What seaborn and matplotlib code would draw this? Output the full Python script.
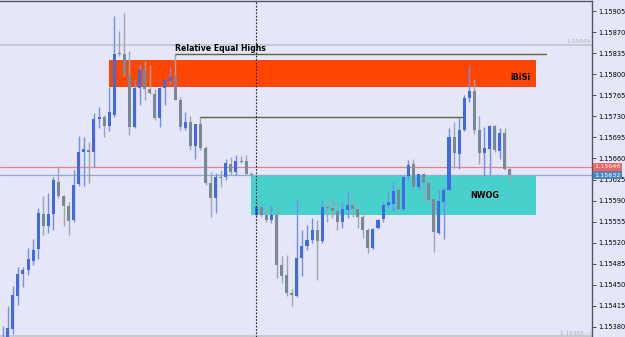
import numpy as np
import matplotlib
matplotlib.use("Agg")
import matplotlib.pyplot as plt
import matplotlib.transforms as mtransforms
import seaborn as sns

# ---- data (EURUSD-like candles) ----
opens = [1.15345, 1.15355, 1.15376, 1.15432, 1.15467, 1.15474, 1.15490, 1.15509, 1.15567, 1.15548,
         1.15568, 1.15621, 1.15598, 1.15581, 1.15557, 1.15617, 1.15671, 1.15674, 1.15671, 1.15725,
         1.15729, 1.15714, 1.15732, 1.15835, 1.15834, 1.15799, 1.15712, 1.15778, 1.15808, 1.15776,
         1.15768, 1.15728, 1.15778, 1.15789, 1.15798, 1.15758, 1.15711, 1.15721, 1.15680, 1.15717,
         1.15677, 1.15620, 1.15595, 1.15630, 1.15630, 1.15651, 1.15638, 1.15656, 1.15655, 1.15635,
         1.15566, 1.15579, 1.15566, 1.15557, 1.15566, 1.15483, 1.15466, 1.15437, 1.15432, 1.15494,
         1.15514, 1.15525, 1.15541, 1.15523, 1.15579, 1.15577, 1.15573, 1.15555, 1.15574, 1.15583,
         1.15576, 1.15563, 1.15541, 1.15511, 1.15544, 1.15559, 1.15583, 1.15585, 1.15608, 1.15576,
         1.15631, 1.15651, 1.15612, 1.15634, 1.15619, 1.15592, 1.15536, 1.15588, 1.15608, 1.15695,
         1.15667, 1.15707, 1.15761, 1.15773, 1.15708, 1.15669, 1.15676, 1.15714, 1.15673, 1.15703,
         1.15642]
highs = [1.15381, 1.15415, 1.15448, 1.15480, 1.15480, 1.15511, 1.15526, 1.15577, 1.15597, 1.15602,
         1.15629, 1.15648, 1.15599, 1.15588, 1.15641, 1.15697, 1.15695, 1.15688, 1.15735, 1.15745,
         1.15732, 1.15779, 1.15897, 1.15872, 1.15902, 1.15838, 1.15790, 1.15818, 1.15822, 1.15815,
         1.15776, 1.15779, 1.15792, 1.15812, 1.15833, 1.15763, 1.15738, 1.15730, 1.15718, 1.15729,
         1.15680, 1.15638, 1.15636, 1.15641, 1.15659, 1.15663, 1.15666, 1.15664, 1.15666, 1.15638,
         1.15583, 1.15581, 1.15577, 1.15583, 1.15579, 1.15497, 1.15500, 1.15443, 1.15593, 1.15541,
         1.15550, 1.15561, 1.15558, 1.15593, 1.15590, 1.15598, 1.15590, 1.15590, 1.15604, 1.15593,
         1.15581, 1.15566, 1.15544, 1.15544, 1.15560, 1.15588, 1.15605, 1.15621, 1.15613, 1.15631,
         1.15657, 1.15659, 1.15635, 1.15636, 1.15621, 1.15593, 1.15610, 1.15612, 1.15710, 1.15721,
         1.15727, 1.15765, 1.15814, 1.15793, 1.15731, 1.15713, 1.15716, 1.15716, 1.15710, 1.15710,
         1.15644]
lows = [1.15340, 1.15350, 1.15368, 1.15417, 1.15446, 1.15466, 1.15483, 1.15492, 1.15533, 1.15536,
        1.15541, 1.15595, 1.15547, 1.15533, 1.15555, 1.15614, 1.15614, 1.15619, 1.15646, 1.15710,
        1.15696, 1.15706, 1.15729, 1.15831, 1.15797, 1.15699, 1.15710, 1.15749, 1.15757, 1.15768,
        1.15724, 1.15713, 1.15749, 1.15782, 1.15757, 1.15707, 1.15707, 1.15674, 1.15659, 1.15674,
        1.15616, 1.15562, 1.15569, 1.15613, 1.15624, 1.15633, 1.15633, 1.15652, 1.15632, 1.15630,
        1.15563, 1.15562, 1.15555, 1.15553, 1.15461, 1.15453, 1.15432, 1.15415, 1.15429, 1.15465,
        1.15508, 1.15519, 1.15457, 1.15520, 1.15555, 1.15561, 1.15541, 1.15544, 1.15561, 1.15563,
        1.15544, 1.15527, 1.15502, 1.15509, 1.15542, 1.15555, 1.15580, 1.15573, 1.15573, 1.15572,
        1.15624, 1.15610, 1.15608, 1.15588, 1.15588, 1.15504, 1.15535, 1.15526, 1.15607, 1.15644,
        1.15642, 1.15706, 1.15754, 1.15701, 1.15651, 1.15631, 1.15633, 1.15670, 1.15659, 1.15641,
        1.15620]
closes = [1.15355, 1.15378, 1.15433, 1.15468, 1.15475, 1.15492, 1.15508, 1.15569, 1.15547, 1.15567,
          1.15624, 1.15598, 1.15581, 1.15556, 1.15616, 1.15671, 1.15676, 1.15671, 1.15726, 1.15729,
          1.15714, 1.15737, 1.15834, 1.15833, 1.15799, 1.15713, 1.15778, 1.15808, 1.15775, 1.15769,
          1.15727, 1.15778, 1.15790, 1.15796, 1.15758, 1.15713, 1.15721, 1.15681, 1.15717, 1.15677,
          1.15620, 1.15594, 1.15630, 1.15627, 1.15652, 1.15638, 1.15656, 1.15654, 1.15634, 1.15632,
          1.15579, 1.15566, 1.15558, 1.15566, 1.15483, 1.15465, 1.15437, 1.15433, 1.15495, 1.15515,
          1.15525, 1.15541, 1.15522, 1.15579, 1.15577, 1.15573, 1.15554, 1.15576, 1.15582, 1.15576,
          1.15563, 1.15541, 1.15511, 1.15542, 1.15558, 1.15582, 1.15587, 1.15606, 1.15576, 1.15630,
          1.15649, 1.15612, 1.15634, 1.15619, 1.15591, 1.15537, 1.15590, 1.15608, 1.15695, 1.15669,
          1.15707, 1.15760, 1.15773, 1.15708, 1.15669, 1.15677, 1.15714, 1.15674, 1.15702, 1.15642,
          1.15632]

ytick_values = [1.15380, 1.15415, 1.15450, 1.15485, 1.15520, 1.15555, 1.15590, 1.15625,
                1.15660, 1.15695, 1.15730, 1.15765, 1.15800, 1.15835, 1.15870, 1.15905]

ibisi_zone = [1.157793, 1.158236]
nwog_zone = [1.155662, 1.156314]
equal_highs_level = 1.15833
second_high_level = 1.15729
ask_price = 1.15646
bid_price = 1.15632
upper_ref_level = 1.15849
lower_ref_level = 1.15365

# ---- style ----
BG = "#E6E6FA"
sns.set_style("white", {"axes.facecolor": BG, "figure.facecolor": BG})
plt.rcParams['font.family'] = ['DejaVu Sans']

fig = plt.figure(figsize=(6.25, 3.37), dpi=100)
ax = fig.add_axes([0, 0, 592 / 625, 336 / 337])
ax.set_facecolor(BG)

o = np.array(opens); h = np.array(highs); l = np.array(lows); c = np.array(closes)
x = np.arange(len(o))
bull = c >= o
body_col = np.where(bull, "#4169E1", "#788896")
wick_col = np.where(bull, "#6F8EEE", "#9AA6B2")

# zones
ax.fill_between([21.0, 105.1], ibisi_zone[0], ibisi_zone[1], color="#FF4500", lw=0, zorder=1)
ax.fill_between([49.0, 105.1], nwog_zone[0], nwog_zone[1], color="#48D1CC", lw=0, zorder=1)

# horizontal lines
ax.axhline(upper_ref_level, color="#C4C4C8", lw=1.2, zorder=0.5)
ax.axhline(lower_ref_level, color="#C4C4C8", lw=1.2, zorder=0.5)
ax.axhline(ask_price, color="#F08080", lw=0.9, zorder=0.6)
ax.axhline(bid_price, color="#8FAAD8", lw=0.9, zorder=0.6)
ax.plot([34.0, 107.2], [equal_highs_level] * 2, color="#556B2F", lw=1.0, zorder=2)
ax.plot([39.0, 91.0], [second_high_level] * 2, color="#556B2F", lw=1.0, zorder=2)
ax.axvline(50.0, color="#222222", lw=0.8, ls=(0, (1.5, 1.5)), zorder=3)

# candles
ax.vlines(x, l, h, colors=wick_col, lw=1.0, zorder=2.2)
body_h = np.maximum(np.abs(c - o), 0.000016)
ax.bar(x, body_h, bottom=np.minimum(o, c), width=0.6, color=body_col, lw=0, zorder=2.4)

# texts
ax.text(34.0, equal_highs_level + 0.00002, "Relative Equal Highs", fontsize=5.6,
        fontweight="bold", color="black", ha="left", va="bottom", zorder=4)
ax.text(104.0, 1.15795, "iBiSi", fontsize=5.8, fontweight="bold", color="black",
        ha="right", va="center", zorder=4)
ax.text(95.0, 1.155985, "NWOG", fontsize=5.8, fontweight="bold", color="black",
        ha="center", va="center", zorder=4)
ax.text(116.0, upper_ref_level + 0.00001, "1.15849", fontsize=4.2, color="#B0B0B8",
        ha="right", va="bottom", zorder=4)
ax.text(109.9, lower_ref_level + 0.00001, "1.15365 - Q", fontsize=4.2, color="#B0B0B8",
        ha="left", va="bottom", zorder=4, clip_on=True)

ax.set_xlim(-0.53, 116.2)
ax.set_ylim(1.15363, 1.15922)

# axes / ticks
ax.yaxis.tick_right()
ax.set_yticks(ytick_values)
ax.set_yticklabels([f"{v:.5f}" for v in ytick_values])
ax.tick_params(axis="y", direction="out", length=3, width=0.6, color="#333333",
               labelsize=4.8, pad=1.2, labelcolor="black")
ax.set_xticks([])
for side in ["left", "bottom"]:
    ax.spines[side].set_visible(False)
for side in ["top", "right"]:
    ax.spines[side].set_visible(True)
    ax.spines[side].set_color("#555566")
    ax.spines[side].set_linewidth(1.0)

# price tags on the axis
trans = mtransforms.blended_transform_factory(ax.transAxes, ax.transData)
ax.text(1.004, ask_price, "1.15646", transform=trans, fontsize=4.6, color="white",
        ha="left", va="center", zorder=5, clip_on=False,
        bbox=dict(boxstyle="square,pad=0.25", fc="#F06464", ec="none"))
ax.text(1.004, bid_price, "1.15632", transform=trans, fontsize=4.6, color="white",
        ha="left", va="center", zorder=5, clip_on=False,
        bbox=dict(boxstyle="square,pad=0.25", fc="#4A86C0", ec="none"))

fig.savefig("out.png", dpi=100, facecolor=BG)
